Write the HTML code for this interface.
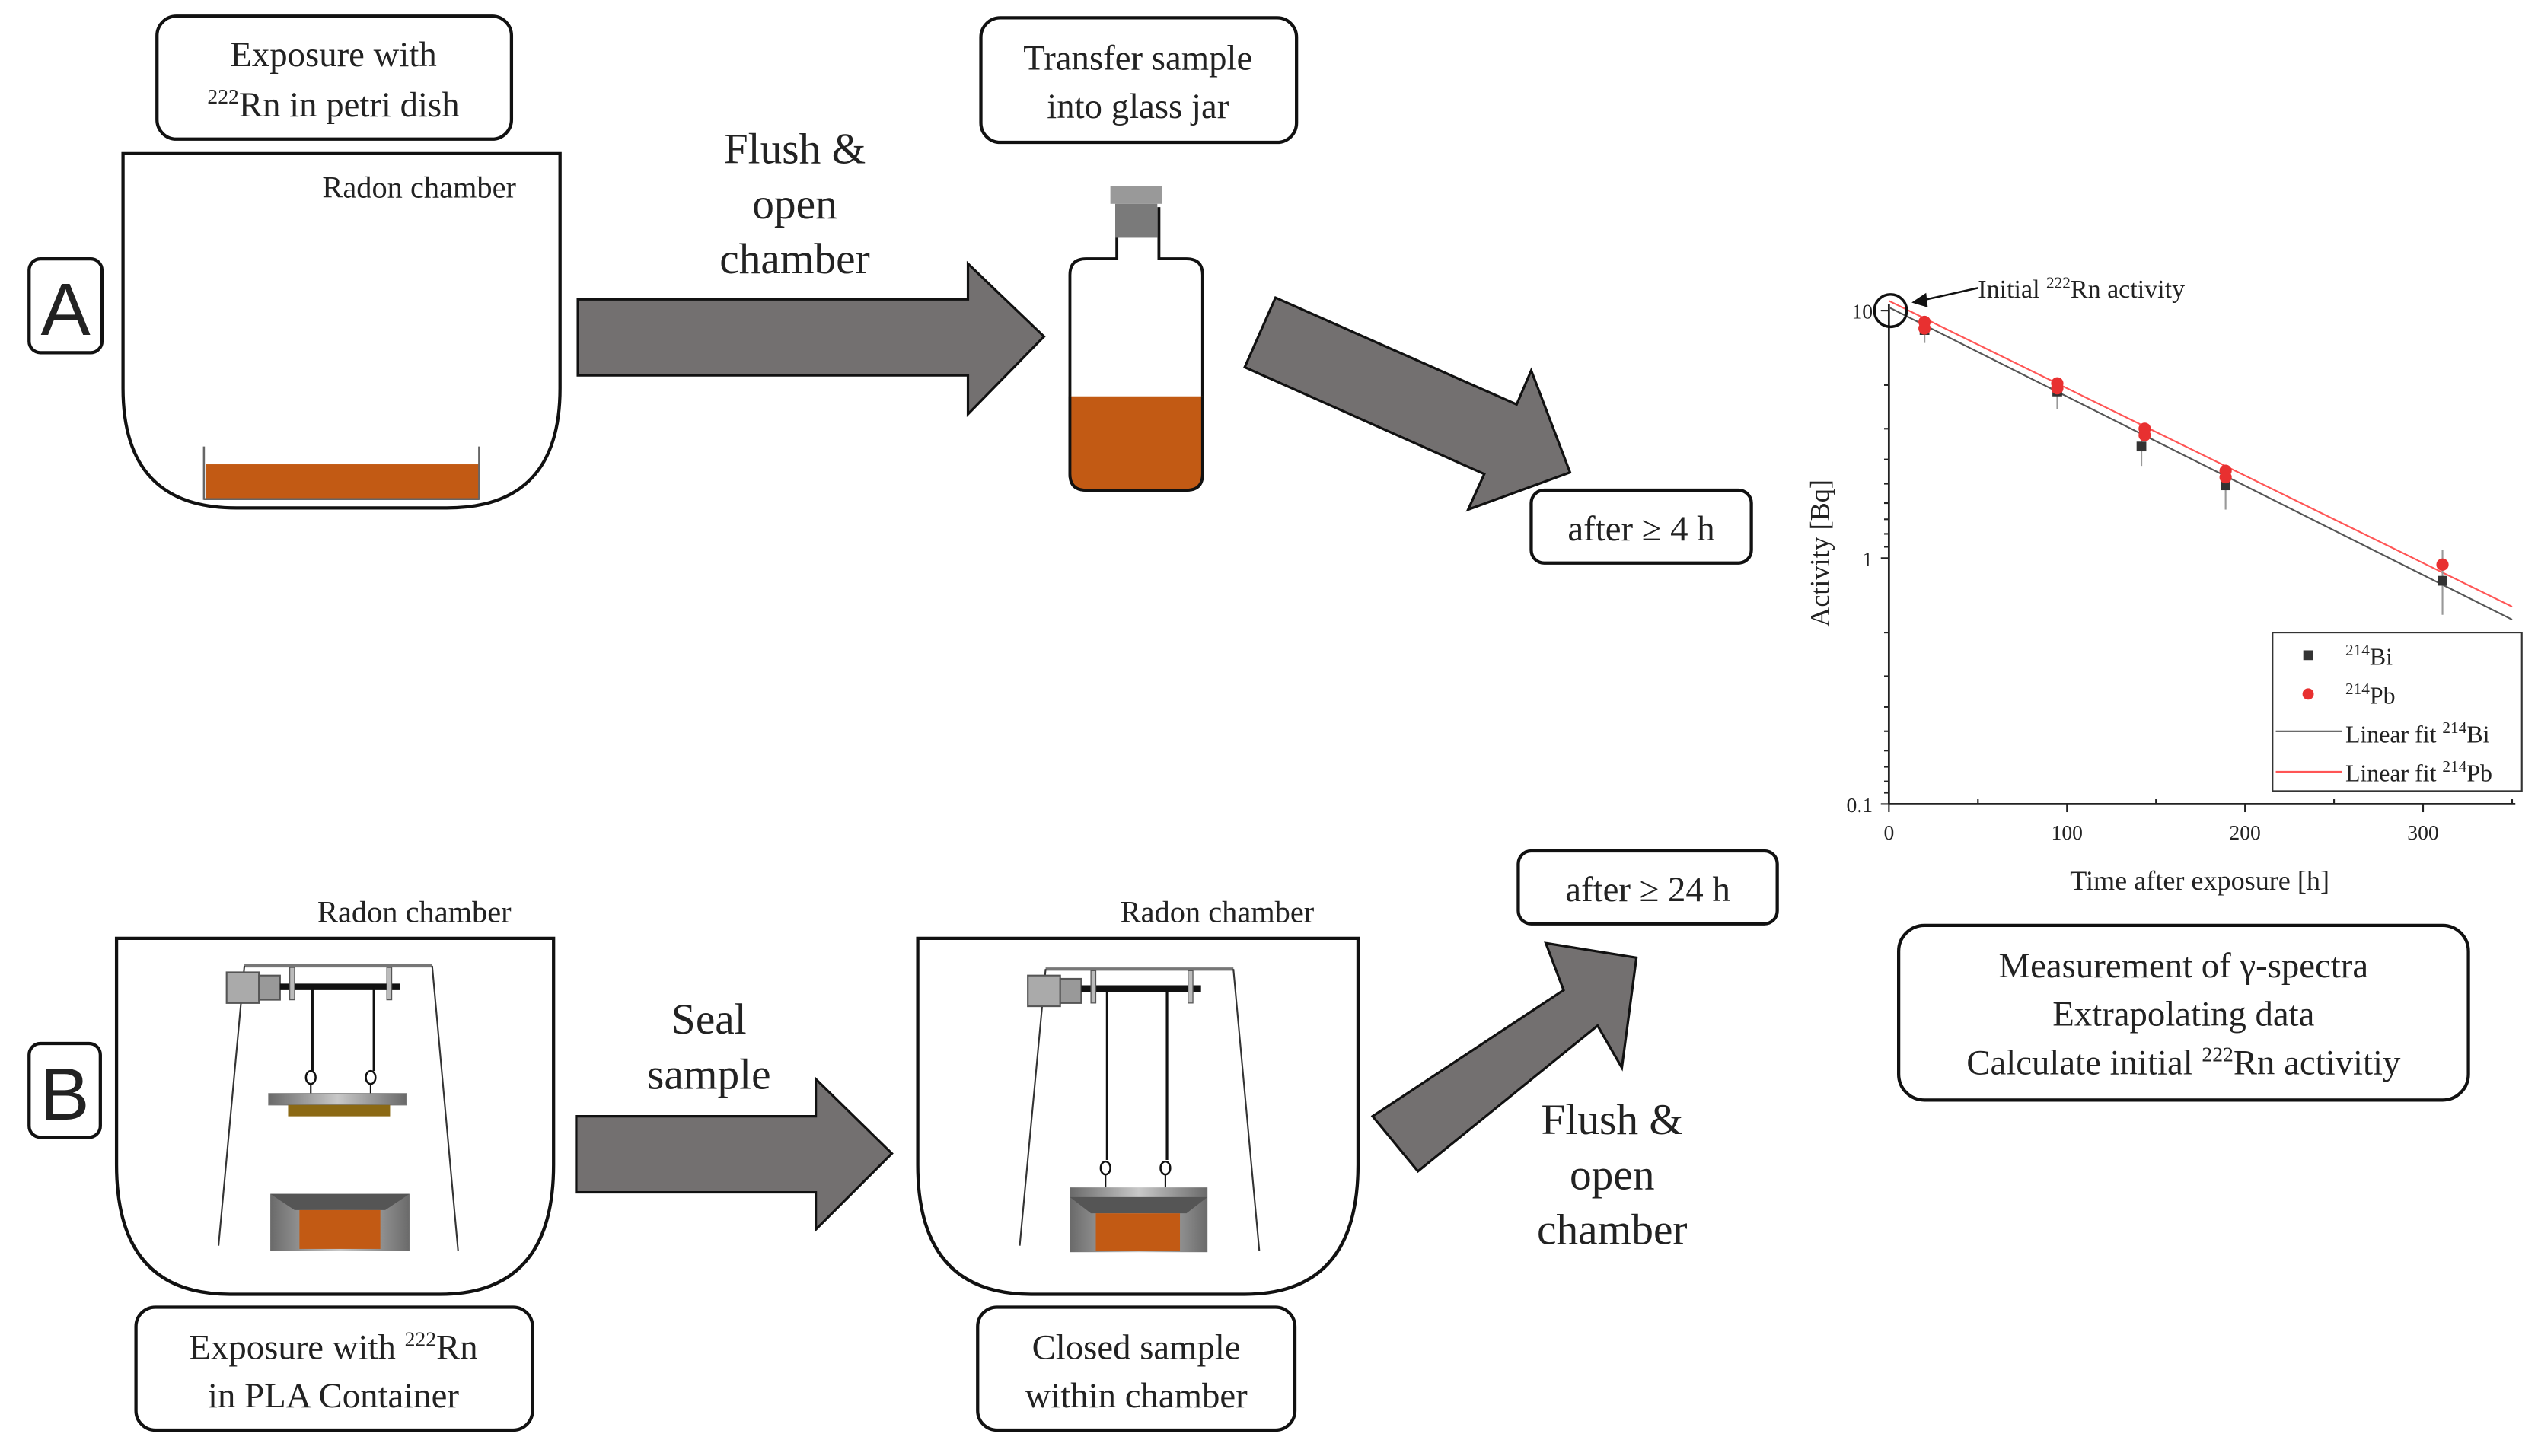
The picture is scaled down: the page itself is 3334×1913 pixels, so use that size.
<!DOCTYPE html>
<html><head><meta charset="utf-8"><style>
html,body{margin:0;padding:0;background:#fff;}
svg{display:block;}
text{font-family:"Liberation Serif",serif;fill:#222;}
.sans{font-family:"Liberation Sans",sans-serif;}
</style></head><body>
<svg width="3334" height="1913" viewBox="0 0 1568 900" preserveAspectRatio="none" xmlns="http://www.w3.org/2000/svg">
<defs>
<linearGradient id="gm" x1="0" x2="1"><stop offset="0" stop-color="#6a6a6a"/><stop offset=".5" stop-color="#c8c8c8"/><stop offset="1" stop-color="#6a6a6a"/></linearGradient>
</defs>
<!-- A label -->
<rect x="18" y="160" width="45" height="58" rx="7" fill="#fff" stroke="#111" stroke-width="2"/>
<text x="40.5" y="207" text-anchor="middle" font-size="46" class="sans" style="font-family:'Liberation Sans',sans-serif">A</text>
<!-- B label -->
<rect x="18" y="645" width="44" height="58" rx="7" fill="#fff" stroke="#111" stroke-width="2"/>
<text x="40" y="692" text-anchor="middle" font-size="46" style="font-family:'Liberation Sans',sans-serif">B</text>

<!-- Box: Exposure petri -->
<rect x="97" y="10" width="219" height="76" rx="12" fill="#fff" stroke="#111" stroke-width="2"/>
<text x="206" y="41" text-anchor="middle" font-size="22">Exposure with</text>
<text x="206" y="72" text-anchor="middle" font-size="22"><tspan font-size="13" dy="-8">222</tspan><tspan dy="8">Rn in petri dish</tspan></text>

<!-- Chamber A -->
<path d="M76,95 H346 V240 Q346,314 276,314 H146 Q76,314 76,240 Z" fill="#fff" stroke="#111" stroke-width="2"/>
<text x="259" y="122" text-anchor="middle" font-size="19">Radon chamber</text>
<rect x="127" y="287" width="169" height="21" fill="#c25a14"/>
<line x1="126" y1="276" x2="126" y2="309" stroke="#666" stroke-width="1.2"/>
<line x1="296" y1="276" x2="296" y2="309" stroke="#666" stroke-width="1.2"/>
<line x1="126" y1="308.5" x2="296" y2="308.5" stroke="#666" stroke-width="1.2"/>

<!-- Arrow 1 -->
<polygon points="357,185 598,185 598,163 645,208 598,256 598,232 357,232" fill="#737070" stroke="#111" stroke-width="1.5"/>
<text x="491" y="101" text-anchor="middle" font-size="27">Flush &amp;</text>
<text x="491" y="135" text-anchor="middle" font-size="27">open</text>
<text x="491" y="169" text-anchor="middle" font-size="27">chamber</text>

<!-- Transfer box -->
<rect x="606" y="11" width="195" height="77" rx="12" fill="#fff" stroke="#111" stroke-width="2"/>
<text x="703" y="43" text-anchor="middle" font-size="22">Transfer sample</text>
<text x="703" y="73" text-anchor="middle" font-size="22">into glass jar</text>

<!-- Bottle -->
<path d="M690,128 V160 H671 Q661,160 661,170 V293 Q661,303 671,303 H733 Q743,303 743,293 V170 Q743,160 733,160 H716 V128" fill="#fff" stroke="#111" stroke-width="1.8"/>
<path d="M661,245 H743 V293 Q743,303 733,303 H671 Q661,303 661,293 Z" fill="#c25a14"/>
<path d="M661,245 V293 Q661,303 671,303 H733 Q743,303 743,293 V245" fill="none" stroke="#111" stroke-width="1.8"/>
<rect x="686" y="115" width="32" height="11" fill="#999"/>
<rect x="689" y="126" width="26" height="21" fill="#7a7a7a"/>

<!-- Arrow 2 -->
<polygon points="788,184 937,250 946,229 970,292 907,315 917,293 769,227" fill="#737070" stroke="#111" stroke-width="1.5"/>

<!-- after 4h -->
<rect x="946" y="303" width="136" height="45" rx="8" fill="#fff" stroke="#111" stroke-width="2"/>
<text x="1014" y="334" text-anchor="middle" font-size="22">after ≥ 4 h</text>

<!-- Plot -->
<g>
<line x1="1167" y1="188" x2="1167" y2="497" stroke="#222" stroke-width="1.3"/>
<line x1="1167" y1="497" x2="1554" y2="497" stroke="#222" stroke-width="1.3"/>
<g stroke="#222" stroke-width="1">
<line x1="1162" y1="192" x2="1167" y2="192"/><line x1="1162" y1="345" x2="1167" y2="345"/><line x1="1162" y1="497" x2="1167" y2="497"/>
<line x1="1164" y1="238" x2="1167" y2="238"/><line x1="1164" y1="265" x2="1167" y2="265"/><line x1="1164" y1="284" x2="1167" y2="284"/><line x1="1164" y1="299" x2="1167" y2="299"/><line x1="1164" y1="311" x2="1167" y2="311"/><line x1="1164" y1="321" x2="1167" y2="321"/><line x1="1164" y1="330" x2="1167" y2="330"/><line x1="1164" y1="338" x2="1167" y2="338"/>
<line x1="1164" y1="391" x2="1167" y2="391"/><line x1="1164" y1="418" x2="1167" y2="418"/><line x1="1164" y1="437" x2="1167" y2="437"/><line x1="1164" y1="452" x2="1167" y2="452"/><line x1="1164" y1="464" x2="1167" y2="464"/><line x1="1164" y1="474" x2="1167" y2="474"/><line x1="1164" y1="483" x2="1167" y2="483"/><line x1="1164" y1="490" x2="1167" y2="490"/>
<line x1="1167" y1="497" x2="1167" y2="502"/><line x1="1277" y1="497" x2="1277" y2="502"/><line x1="1387" y1="497" x2="1387" y2="502"/><line x1="1497" y1="497" x2="1497" y2="502"/>
<line x1="1222" y1="497" x2="1222" y2="494"/><line x1="1332" y1="497" x2="1332" y2="494"/><line x1="1442" y1="497" x2="1442" y2="494"/><line x1="1552" y1="497" x2="1552" y2="494"/>
</g>
<text x="1157" y="197" text-anchor="end" font-size="13">10</text>
<text x="1157" y="350" text-anchor="end" font-size="13">1</text>
<text x="1157" y="502" text-anchor="end" font-size="13">0.1</text>
<text x="1167" y="519" text-anchor="middle" font-size="13">0</text>
<text x="1277" y="519" text-anchor="middle" font-size="13">100</text>
<text x="1387" y="519" text-anchor="middle" font-size="13">200</text>
<text x="1497" y="519" text-anchor="middle" font-size="13">300</text>
<text x="1359" y="550" text-anchor="middle" font-size="17">Time after exposure [h]</text>
<text transform="translate(1130,342) rotate(-90)" text-anchor="middle" font-size="17">Activity [Bq]</text>
<line x1="1167" y1="190" x2="1552" y2="383" stroke="#555" stroke-width="1"/>
<line x1="1167" y1="186" x2="1552" y2="375" stroke="#f55" stroke-width="1"/>
<g stroke="#999" stroke-width="1">
<line x1="1189" y1="198" x2="1189" y2="212"/><line x1="1271" y1="234" x2="1271" y2="253"/><line x1="1323" y1="266" x2="1323" y2="288"/><line x1="1375" y1="288" x2="1375" y2="315"/><line x1="1509" y1="340" x2="1509" y2="380"/>
</g>
<g fill="#333">
<rect x="1186" y="201" width="6" height="6"/><rect x="1268" y="239" width="6" height="6"/><rect x="1320" y="273" width="6" height="6"/><rect x="1372" y="297" width="6" height="6"/><rect x="1506" y="356" width="6" height="6"/>
</g>
<g fill="#e83030">
<circle cx="1189" cy="199" r="3.8"/><circle cx="1189" cy="203" r="3.8"/><circle cx="1271" cy="237" r="3.8"/><circle cx="1271" cy="240" r="3.8"/><circle cx="1325" cy="265" r="3.8"/><circle cx="1325" cy="269" r="3.8"/><circle cx="1375" cy="291" r="3.8"/><circle cx="1375" cy="295" r="3.8"/><circle cx="1509" cy="349" r="3.8"/>
</g>
<circle cx="1168" cy="192" r="10" fill="none" stroke="#111" stroke-width="1.6"/>
<line x1="1222" y1="178" x2="1186" y2="186" stroke="#111" stroke-width="1.2"/>
<polygon points="1181,187 1190,181 1191,190" fill="#111"/>
<text x="1222" y="184" font-size="16">Initial <tspan font-size="10" dy="-6">222</tspan><tspan dy="6">Rn activity</tspan></text>
<rect x="1404" y="391" width="154" height="98" fill="#fff" stroke="#333" stroke-width="1"/>
<rect x="1423" y="402" width="6" height="6" fill="#333"/>
<circle cx="1426" cy="429" r="3.5" fill="#e83030"/>
<text x="1449" y="411" font-size="15"><tspan font-size="10" dy="-6">214</tspan><tspan dy="6">Bi</tspan></text>
<text x="1449" y="435" font-size="15"><tspan font-size="10" dy="-6">214</tspan><tspan dy="6">Pb</tspan></text>
<line x1="1406" y1="452" x2="1447" y2="452" stroke="#555" stroke-width="1"/>
<line x1="1406" y1="477" x2="1447" y2="477" stroke="#f55" stroke-width="1"/>
<text x="1449" y="459" font-size="15">Linear fit <tspan font-size="10" dy="-6">214</tspan><tspan dy="6">Bi</tspan></text>
<text x="1449" y="483" font-size="15">Linear fit <tspan font-size="10" dy="-6">214</tspan><tspan dy="6">Pb</tspan></text>
</g>

<!-- Measurement box -->
<rect x="1173" y="572" width="352" height="108" rx="16" fill="#fff" stroke="#111" stroke-width="2"/>
<text x="1349" y="604" text-anchor="middle" font-size="22">Measurement of γ-spectra</text>
<text x="1349" y="634" text-anchor="middle" font-size="22">Extrapolating data</text>
<text x="1349" y="664" text-anchor="middle" font-size="22">Calculate initial <tspan font-size="13" dy="-8">222</tspan><tspan dy="8">Rn activitiy</tspan></text>

<!-- Chamber B1 -->
<text x="256" y="570" text-anchor="middle" font-size="19">Radon chamber</text>
<path d="M72,580 H342 V720 Q342,800 272,800 H142 Q72,800 72,720 Z" fill="#fff" stroke="#111" stroke-width="2"/>
<g id="frame1">
<line x1="151" y1="597" x2="267" y2="597" stroke="#777" stroke-width="2"/>
<line x1="151" y1="597" x2="135" y2="770" stroke="#333" stroke-width="1"/>
<line x1="267" y1="597" x2="283" y2="773" stroke="#333" stroke-width="1"/>
<rect x="140" y="601" width="20" height="19" fill="#aaa" stroke="#555" stroke-width="1"/>
<rect x="160" y="603" width="13" height="15" fill="#999" stroke="#555" stroke-width="1"/>
<line x1="173" y1="610" x2="247" y2="610" stroke="#111" stroke-width="4"/>
<rect x="179" y="598" width="3" height="20" fill="#bbb" stroke="#555" stroke-width=".6"/>
<rect x="239" y="598" width="3" height="20" fill="#bbb" stroke="#555" stroke-width=".6"/>
</g>
<line x1="193" y1="610" x2="193" y2="662" stroke="#111" stroke-width="1.5"/>
<line x1="231" y1="610" x2="231" y2="662" stroke="#111" stroke-width="1.5"/>
<ellipse cx="192" cy="666" rx="3" ry="4" fill="none" stroke="#111" stroke-width="1.2"/>
<ellipse cx="229" cy="666" rx="3" ry="4" fill="none" stroke="#111" stroke-width="1.2"/>
<line x1="192" y1="670" x2="192" y2="676" stroke="#111"/><line x1="229" y1="670" x2="229" y2="676" stroke="#111"/>
<rect x="166" y="676" width="85" height="7" fill="url(#gm)" stroke="#777" stroke-width=".6"/>
<rect x="178" y="683" width="63" height="7" fill="#8b6914"/>
<rect x="167" y="738" width="86" height="35" fill="url(#gm)"/>
<polygon points="167,738 253,738 238,748 182,748" fill="#555"/>
<rect x="185" y="748" width="50" height="24" fill="#c25a14"/>

<!-- Box B1 -->
<rect x="84" y="808" width="245" height="76" rx="12" fill="#fff" stroke="#111" stroke-width="2"/>
<text x="206" y="840" text-anchor="middle" font-size="22">Exposure with <tspan font-size="13" dy="-8">222</tspan><tspan dy="8">Rn</tspan></text>
<text x="206" y="870" text-anchor="middle" font-size="22">in PLA Container</text>

<!-- Seal arrow -->
<polygon points="356,690 504,690 504,667 551,713 504,760 504,737 356,737" fill="#737070" stroke="#111" stroke-width="1.5"/>
<text x="438" y="639" text-anchor="middle" font-size="27">Seal</text>
<text x="438" y="673" text-anchor="middle" font-size="27">sample</text>

<!-- Chamber B2 -->
<text x="752" y="570" text-anchor="middle" font-size="19">Radon chamber</text>
<path d="M567,580 H839 V720 Q839,800 769,800 H637 Q567,800 567,720 Z" fill="#fff" stroke="#111" stroke-width="2"/>
<g transform="translate(495,0)">
<line x1="151" y1="599" x2="267" y2="599" stroke="#777" stroke-width="2"/>
<line x1="151" y1="599" x2="135" y2="770" stroke="#333" stroke-width="1"/>
<line x1="267" y1="599" x2="283" y2="773" stroke="#333" stroke-width="1"/>
<rect x="140" y="603" width="20" height="19" fill="#aaa" stroke="#555" stroke-width="1"/>
<rect x="160" y="605" width="13" height="15" fill="#999" stroke="#555" stroke-width="1"/>
<line x1="173" y1="611" x2="247" y2="611" stroke="#111" stroke-width="4"/>
<rect x="179" y="600" width="3" height="20" fill="#bbb" stroke="#555" stroke-width=".6"/>
<rect x="239" y="600" width="3" height="20" fill="#bbb" stroke="#555" stroke-width=".6"/>
<line x1="189" y1="611" x2="189" y2="717" stroke="#111" stroke-width="1.5"/>
<line x1="226" y1="611" x2="226" y2="717" stroke="#111" stroke-width="1.5"/>
<ellipse cx="188" cy="722" rx="3" ry="4" fill="none" stroke="#111" stroke-width="1.2"/>
<ellipse cx="225" cy="722" rx="3" ry="4" fill="none" stroke="#111" stroke-width="1.2"/>
<line x1="188" y1="726" x2="188" y2="734" stroke="#111"/><line x1="225" y1="726" x2="225" y2="734" stroke="#111"/>
<rect x="166" y="734" width="85" height="40" fill="url(#gm)"/>
<polygon points="166,740 251,740 238,750 179,750" fill="#555"/>
<rect x="182" y="750" width="52" height="23" fill="#c25a14"/>
</g>

<!-- Box B2 -->
<rect x="604" y="808" width="196" height="76" rx="12" fill="#fff" stroke="#111" stroke-width="2"/>
<text x="702" y="840" text-anchor="middle" font-size="22">Closed sample</text>
<text x="702" y="870" text-anchor="middle" font-size="22">within chamber</text>

<!-- after 24h -->
<rect x="938" y="526" width="160" height="45" rx="8" fill="#fff" stroke="#111" stroke-width="2"/>
<text x="1018" y="557" text-anchor="middle" font-size="22">after ≥ 24 h</text>

<!-- Arrow 3 -->
<polygon points="848,690 966,612 955,583 1011,592 1002,660 987,634 876,724" fill="#737070" stroke="#111" stroke-width="1.5"/>
<text x="996" y="701" text-anchor="middle" font-size="27">Flush &amp;</text>
<text x="996" y="735" text-anchor="middle" font-size="27">open</text>
<text x="996" y="769" text-anchor="middle" font-size="27">chamber</text>
</svg>
</body></html>
